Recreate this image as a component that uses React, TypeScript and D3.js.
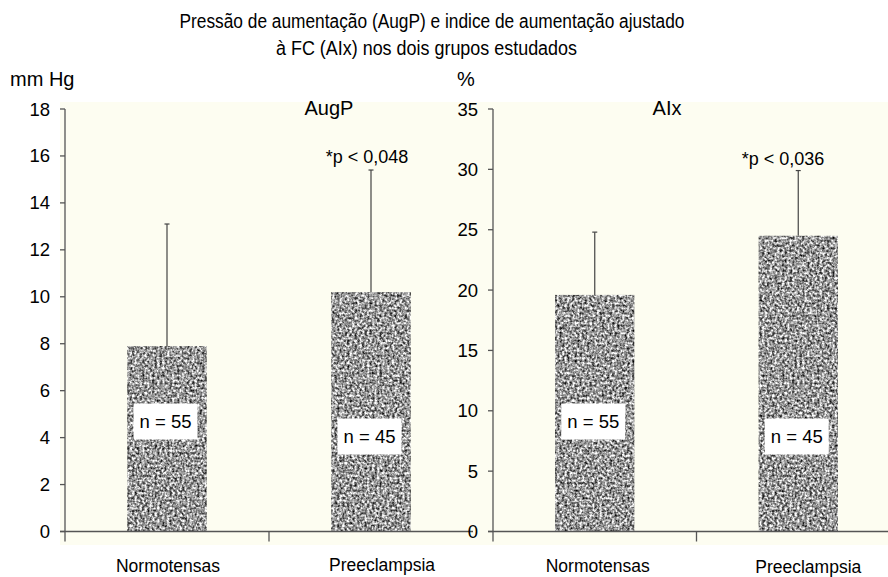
import React, { useEffect, useRef } from 'react';
import { select, scaleLinear, scaleBand } from 'd3';

// values
const categories = ['Normotensas', 'Preeclampsia'];
const sampleLabels = ['n = 55', 'n = 45'];
const augpMeans = [7.9, 10.2];
const augpUpper = [13.1, 15.4];
const aixMeans = [19.6, 24.5];
const aixUpper = [24.8, 29.9];
const augpTicks = [0, 2, 4, 6, 8, 10, 12, 14, 16, 18];
const aixTicks = [0, 5, 10, 15, 20, 25, 30, 35];
const titleLines = [
    'Pressão de aumentação (AugP) e indice de aumentação ajustado',
    'à FC (AIx) nos dois grupos estudados',
];

const W = 888;
const H = 577;
const FONT = "'Liberation Sans', Arial, Helvetica, sans-serif";

const App = () => {
    const ref = useRef<SVGSVGElement>(null);

    useEffect(() => {
        const svg = select(ref.current);
        svg.selectAll('*').remove();

        // speckled grey fill of the bars
        const defs = svg.append('defs');
        const f = defs.append('filter')
            .attr('id', 'grain')
            .attr('color-interpolation-filters', 'sRGB')
            .attr('x', 0).attr('y', 0).attr('width', 1).attr('height', 1);
        f.append('feTurbulence')
            .attr('type', 'fractalNoise')
            .attr('baseFrequency', 0.4)
            .attr('numOctaves', 2)
            .attr('seed', 3)
            .attr('result', 'noise');
        f.append('feColorMatrix')
            .attr('in', 'noise')
            .attr('type', 'matrix')
            .attr('values', '1.7 0 0 0 -0.25  1.7 0 0 0 -0.25  1.7 0 0 0 -0.25  0 0 0 0 1')
            .attr('result', 'gray');
        f.append('feGaussianBlur')
            .attr('in', 'gray')
            .attr('stdDeviation', 0.4)
            .attr('result', 'soft');
        f.append('feComposite')
            .attr('in', 'soft')
            .attr('in2', 'SourceGraphic')
            .attr('operator', 'in');

        // cream plot background
        svg.append('rect')
            .attr('x', 60).attr('y', 102)
            .attr('width', W - 60).attr('height', 443)
            .attr('fill', '#fdfdf1');

        // title
        svg.append('text')
            .attr('x', 432).attr('y', 28)
            .attr('text-anchor', 'middle')
            .attr('textLength', 505).attr('lengthAdjust', 'spacingAndGlyphs')
            .style('font', `20px ${FONT}`)
            .text(titleLines[0]);
        svg.append('text')
            .attr('x', 426.5).attr('y', 55)
            .attr('text-anchor', 'middle')
            .attr('textLength', 301).attr('lengthAdjust', 'spacingAndGlyphs')
            .style('font', `20px ${FONT}`)
            .text(titleLines[1]);

        const panels = [
            {
                name: 'AugP', unit: 'mm Hg', unitX: 10, max: 18, ticks: augpTicks,
                means: augpMeans, upper: augpUpper, p: '*p < 0,048',
                x0: 65, x1: 473, titleX: 329, pX: 367, pY: 163,
                labelY: [572, 571], labelDx: [1, 11],
            },
            {
                name: 'AIx', unit: '%', unitX: 457, max: 35, ticks: aixTicks,
                means: aixMeans, upper: aixUpper, p: '*p < 0,036',
                x0: 493, x1: 900, titleX: 667, pX: 783, pY: 165,
                labelY: [572, 573], labelDx: [3, 10],
            },
        ];

        const yTop = 109;
        const yBase = 531.5;
        const axisColor = '#555';

        panels.forEach(p => {
            const g = svg.append('g');
            const y = scaleLinear().domain([0, p.max]).range([yBase, yTop]);
            const x = scaleBand<string>()
                .domain(categories)
                .range([p.x0, p.x1])
                .paddingInner(0.61)
                .paddingOuter(0.305);
            const cx = (c: string) => (x(c) as number) + x.bandwidth() / 2;

            g.append('text')
                .attr('x', p.unitX).attr('y', 86)
                .style('font', `20px ${FONT}`)
                .text(p.unit);
            g.append('text')
                .attr('x', p.titleX).attr('y', 115)
                .attr('text-anchor', 'middle')
                .style('font', `20px ${FONT}`)
                .text(p.name);

            // bars
            g.selectAll('rect.bar')
                .data(p.means)
                .enter()
                .append('rect')
                .attr('class', 'bar')
                .attr('x', (d, i) => x(categories[i]) as number)
                .attr('y', d => y(d))
                .attr('width', x.bandwidth())
                .attr('height', d => yBase - y(d))
                .attr('fill', '#888')
                .attr('filter', 'url(#grain)');

            // error bars
            p.upper.forEach((u, i) => {
                const c = cx(categories[i]);
                g.append('line')
                    .attr('x1', c).attr('x2', c)
                    .attr('y1', y(p.means[i])).attr('y2', y(u))
                    .attr('stroke', '#444').attr('stroke-width', 1.2);
                g.append('line')
                    .attr('x1', c - 2.5).attr('x2', c + 2.5)
                    .attr('y1', y(u)).attr('y2', y(u))
                    .attr('stroke', '#444').attr('stroke-width', 1.2);
            });

            // n = labels
            const nOffsets = [110, 95];
            sampleLabels.forEach((s, i) => {
                const c = cx(categories[i]) - 1.5;
                const cy = yBase - nOffsets[i];
                g.append('rect')
                    .attr('x', c - 32).attr('y', cy - 18)
                    .attr('width', 64).attr('height', 36)
                    .attr('fill', '#fff');
                g.append('text')
                    .attr('x', c).attr('y', cy + 6.5)
                    .attr('text-anchor', 'middle')
                    .style('font', `18.5px ${FONT}`)
                    .text(s);
            });

            g.append('text')
                .attr('x', p.pX).attr('y', p.pY)
                .attr('text-anchor', 'middle')
                .style('font', `18px ${FONT}`)
                .text(p.p);

            // y axis
            g.append('line')
                .attr('x1', p.x0).attr('x2', p.x0)
                .attr('y1', yTop).attr('y2', yBase + 10)
                .attr('stroke', axisColor).attr('stroke-width', 1.3);
            p.ticks.forEach(t => {
                g.append('line')
                    .attr('x1', p.x0 - 5).attr('x2', p.x0)
                    .attr('y1', y(t)).attr('y2', y(t))
                    .attr('stroke', axisColor).attr('stroke-width', 1.3);
                g.append('text')
                    .attr('x', p.x0 - 15).attr('y', y(t) + 6.5)
                    .attr('text-anchor', 'end')
                    .style('font', `18.5px ${FONT}`)
                    .text(t);
            });

            // x axis
            g.append('line')
                .attr('x1', p.x0 - 5).attr('x2', Math.min(p.x1, W))
                .attr('y1', yBase).attr('y2', yBase)
                .attr('stroke', axisColor).attr('stroke-width', 1.3);
            const mid = (p.x0 + p.x1) / 2;
            g.append('line')
                .attr('x1', mid).attr('x2', mid)
                .attr('y1', yBase).attr('y2', yBase + 10)
                .attr('stroke', axisColor).attr('stroke-width', 1.3);

            categories.forEach((c, i) => {
                g.append('text')
                    .attr('x', cx(c) + p.labelDx[i]).attr('y', p.labelY[i])
                    .attr('text-anchor', 'middle')
                    .style('font', `17.5px ${FONT}`)
                    .text(c);
            });
        });
    }, []);

    return (
        <svg ref={ref} width={W} height={H}
            style={{ position: 'absolute', left: 0, top: 0, background: '#fff' }} />
    );
};

export default App;
